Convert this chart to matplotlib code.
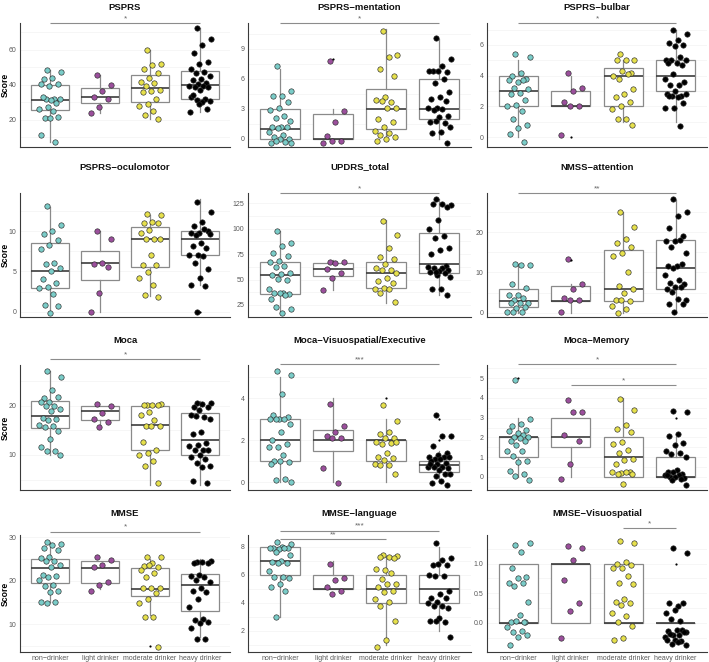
import matplotlib
matplotlib.use("Agg")
import matplotlib.pyplot as plt
import numpy as np

plt.rcParams['font.family'] = ['Liberation Sans', 'DejaVu Sans']

groups = ["non−drinker", "light drinker", "moderate drinker", "heavy drinker"]
group_colors = ["#7accc8", "#9b4f9c", "#e6e04c", "#000000"]

titles = ["PSPRS", "PSPRS−mentation", "PSPRS−bulbar",
          "PSPRS−oculomotor", "UPDRS_total", "NMSS−attention",
          "Moca", "Moca−Visuospatial/Executive", "Moca−Memory",
          "MMSE", "MMSE−language", "MMSE−Visuospatial"]

# ---------------- data (points per group, box stats lo,q1,med,q3,hi) ----------------
psprs_pts = [
    [48.6, 47.2, 44, 43, 40.6, 39.2, 40.6, 32, 32, 31.7, 31.5, 33.1, 29.7, 27.4, 26.1, 25, 21.1, 21.5, 20.7, 11, 7.2],
    [45.7, 40, 36.2, 33, 32, 27.2, 23.8],
    [60, 52, 51.4, 49.1, 46.6, 44, 41.5, 41, 39, 37.1, 36.6, 36, 32, 29.1, 27.6, 24.9, 22.9, 20.2],
    [72.3, 65.9, 62.9, 58.3, 52.9, 52, 49.1, 47.2, 46.8, 44.7, 43.2, 42.5, 41, 40.6, 39.2, 39.2, 38.5, 38.5,
     37.1, 33, 31.6, 31.2, 30.8, 30.3, 34, 26.3, 29.1, 24.4]]
psprs_box = [(7.2, 25.7, 31, 40, 48.6), (23.8, 29.5, 33, 38, 45.7), (20.2, 30, 38, 45.3, 60), (24.4, 31.6, 40, 47.8, 72.3)]
psprs_out = []
psprs_sig = [(1, 4, 75.2, "*")]

ment_pts = [
    [7.3, 4.8, 4.3, 4.3, 3.7, 3.1, 2.9, 2.3, 2.1, 1.8, 1.2, 1.2, 1.2, 1.1, 0.7, 0.4, 0.2, 0, 0, -0.4, -0.3, -0.2, -0.4],
    [7.8, 2.8, 1.7, 0.3, -0.2, -0.2, -0.4],
    [10.8, 8.4, 8.2, 7, 6.3, 4.2, 3.9, 3.7, 3.8, 3.1, 3.1, 2, 1.7, 1.2, 0.8, 0.6, 0.4, 0.2, 0, -0.2],
    [10.1, 8, 7.3, 6.8, 6.7, 6.8, 6.8, 6, 5.6, 4.7, 4.2, 4, 3.8, 3.1, 3.1, 3, 2.9, 2.3, 2.2, 1.7, 1.6, 1.8,
     1.2, 0.7, 0.6, -0.4]]
ment_box = [(0, 0, 1, 3, 7), (0, 0, 0, 2.5, 3), (0, 1, 3, 5, 11), (0, 2, 3, 6, 10)]
ment_out = [(2, 8)]
ment_sig = [(1, 4, 11.57, "*")]

bulb_pts = [
    [5.4, 5.2, 4.2, 4.0, 3.8, 3.6, 3.7, 3.7, 3.2, 3.1, 2.9, 2.8, 2.4, 2.1, 2.0, 1.7, 1.2, 0.8, 0.6, 0.2, -0.3],
    [4.2, 3.2, 3.0, 2.3, 2, 2, 0.15],
    [5.4, 5.0, 5.0, 5.0, 4.2, 4.3, 4.0, 4.1, 3.8, 3.1, 2.8, 2.6, 2.3, 2.0, 1.8, 1.2, 1.2, 0.8],
    [7, 6.7, 6.3, 6.1, 6.0, 5.9, 5.0, 5.2, 5.0, 5.0, 4.8, 4.8, 4.7, 4.1, 3.8, 3.4, 3.4, 3.6, 3.0, 2.8, 2.7,
     2.7, 2.8, 2.6, 2.7, 2.2, 1.9, 1.9, 0.7]]
bulb_box = [(0, 2, 3, 4, 5), (2, 2, 2, 3, 4), (1, 2, 4, 4.5, 5), (1, 3, 4, 5, 7)]
bulb_out = [(2, 0)]
bulb_sig = [(1, 4, 7.43, "*")]

ocul_pts = [
    [13.1, 10.8, 10, 9.6, 8.9, 8.3, 7.8, 6.1, 5.9, 5.4, 5.1, 4.1, 3.6, 3.1, 3.0, 2.2, 0.8, 0.7, -0.2],
    [10, 9.0, 6.1, 5.9, 5.6, 2.3, 0],
    [12.2, 12, 11.2, 11, 11, 10.2, 9.8, 9, 9, 9, 7.1, 5.8, 5.8, 4.9, 4.2, 3.3, 2.1, 1.8],
    [13.7, 12.4, 11.1, 10.7, 10, 9.8, 9.8, 10.3, 9.5, 9.7, 8.6, 8.2, 7.9, 7.1, 7.1, 6.9, 6.1, 5.3, 4.2,
     3.3, 3.2, -0.1]]
ocul_box = [(0, 3, 5, 8.5, 13), (0, 4, 6, 7.5, 10), (2, 5.5, 9, 10.5, 12), (3.3, 7, 9, 10, 14)]
ocul_out = [(4, 0)]
ocul_sig = []

updrs_pts = [
    [98, 86.3, 83, 76.5, 73.5, 68.6, 67.6, 63.4, 62, 56, 55, 54.5, 50, 51, 40.4, 37.1, 36.5, 35.8, 37, 30.6,
     34.8, 23.4, 20.7, 16.8],
    [67, 67.6, 66, 60, 56.1, 51.9, 39.8],
    [107.6, 93.9, 80.7, 72.5, 69.9, 65.3, 61, 59.4, 59.4, 56.1, 51.2, 48.9, 47, 41.4, 40.4, 40.7, 36.5, 28.3],
    [129.3, 123.4, 124, 124.3, 121.7, 108, 99.4, 92.9, 91.2, 80.7, 79.1, 75.2, 63.4, 54.5, 62.7, 61, 61,
     59.4, 58.4, 57.8, 56.8, 57.8, 52.2, 40.4, 40.4, 34.8]]
updrs_box = [(16.8, 36, 54, 67.6, 98), (39.8, 53.5, 60, 66.6, 69), (27.3, 41.4, 56, 67.6, 108), (35, 56.8, 65, 96, 129)]
updrs_out = []
updrs_sig = [(1, 4, 134.8, "*")]

nmss_pts = [
    [12.1, 11.8, 11.8, 7.1, 6.2, 4.4, 4.4, 3.7, 3.1, 2.5, 2.3, 2.3, 1.5, 1.1, 0.2, 0.2, 0.2],
    [13.3, 7.1, 6, 3.7, 3.1, 3.1, 0.2],
    [25, 21.3, 18.4, 17.2, 16.2, 14.9, 14.1, 10.2, 6.6, 5.8, 5, 3.1, 3, 3.1, 1.7, 0.9, -0.2],
    [28.1, 25, 24, 20.9, 19, 17.8, 17.8, 18, 16.2, 14.9, 11.6, 11.6, 12.2, 11.2, 9.3, 8.1, 7.3, 7.1, 6.4,
     6, 6.3, 5.2, 3.1, 3.3, 2.1, 2.1, 0.2]]
nmss_box = [(0, 1.5, 3, 6, 12), (0, 3, 3, 6.5, 7), (0, 3, 6, 15.5, 25), (0, 6, 11, 18, 28)]
nmss_out = [(2, 13)]
nmss_sig = [(1, 4, 29.6, "**")]

moca_pts = [
    [27, 25.9, 23.2, 21.5, 21.7, 20.8, 20.7, 19.9, 19.9, 19.3, 19, 17.6, 17.2, 17, 16.1, 15.9, 15.6, 14.9,
     13.2, 11.7, 10.9, 10.9, 10],
    [20.3, 19.9, 18.6, 17.3, 16.6, 15.7],
    [20.1, 20.3, 20.1, 20.1, 20.1, 18.8, 18.2, 17, 15.9, 15.9, 15.9, 12.6, 11.1, 10.5, 9.9, 8.8, 7.8, 4.3],
    [20.5, 20.5, 20.3, 19.8, 19.7, 19.1, 18.1, 17.8, 17.9, 17.3, 14.7, 14.3, 12.5, 12, 11.8, 11, 11, 11,
     10, 9.5, 9.1, 8.3, 7.8, 7.6, 4.7, 4.3]]
moca_box = [(10, 15.4, 18, 21, 27), (16, 17, 19, 20, 20), (4, 11, 16, 20, 20), (4, 10, 13, 18.5, 21)]
moca_out = []
moca_sig = [(1, 4, 29.5, "*")]

mvis_pts = [
    [5.3, 5.1, 4.2, 3.2, 3.1, 3.0, 3.0, 3.0, 3.0, 2.8, 2.4, 2.0, 1.8, 1.7, 1.7, 1.3, 1.0, 0.95, 1.0, 0.85,
     0.15, 0.1, 0.03],
    [3.75, 2.7, 2.4, 2.2, 2.1, 2.1, 0.7, -0.05],
    [3.7, 2.9, 2.4, 2.3, 2.1, 2.1, 1.9, 1.85, 1.8, 1.9, 1.4, 1.2, 1.15, 1.05, 0.87, 0.83, 0.83, 0.4],
    [3.2, 2.2, 2.2, 1.75, 1.4, 1.3, 1.2, 1.2, 1.1, 1.2, 1.1, 1.0, 0.9, 0.87, 0.75, 0.75, 0.75, 0.67, 0.6,
     0.87, 0.4, 0.3, 0.4, 0.06, -0.05, -0.13]]
mvis_box = [(0, 1, 2, 3, 5), (0, 1.5, 2, 2.5, 4), (0, 1, 2, 2, 3), (0, 0.5, 0.8, 1, 1.5)]
mvis_out = [(3, 4), (4, 3), (4, 2)]
mvis_sig = [(1, 4, 5.63, "***")]

mmem_pts = [
    [4.9, 2.95, 2.7, 2.6, 2.35, 2.2, 2.3, 2.1, 2.0, 2.0, 1.95, 1.8, 1.8, 1.6, 1.3, 1.3, 1.07, 0.8, 0.75,
     0.3, 0.14, 0.03, -0.13],
    [3.9, 3.3, 3.3, 2.1, 1.8, 0.65, -0.1],
    [3.95, 3.4, 2.65, 2.4, 2.25, 1.75, 1.65, 1.35, 1.2, 0.93, 0.88, 0.65, 0.25, 0.2, 0.25, 0.25, 0.17,
     0.14, -0.37],
    [3.35, 3.27, 2.15, 2.07, 1.7, 1.6, 1.3, 1.22, 1.14, 1.0, 0.37, 0.25, 0.17, 0.25, 0.12, 0.08, 0, -0.03,
     0, 0.08, -0.08, -0.17, -0.39]]
mmem_box = [(0, 1, 2, 2, 3), (0, 1.5, 2, 3, 3), (0, 0, 1, 2, 4), (0, 0, 0, 1, 2)]
mmem_out = [(1, 5), (4, 3)]
mmem_sig = [(1, 4, 5.71, "*"), (2, 4, 4.63, "*")]

mmse_pts = [
    [28.8, 28.4, 28.2, 27.4, 27, 25.5, 25.3, 24.5, 24.6, 23.6, 23.2, 21.3, 21.1, 20.9, 20.2, 18.9, 18.8,
     17.6, 17.3, 15, 15, 14.8],
    [25.5, 24.8, 23.6, 23.2, 19.8, 19, 17.6],
    [25.5, 25.4, 24.1, 23.4, 23.2, 23.6, 22.5, 21.7, 20.8, 18.4, 18.2, 18.2, 17.1, 15.9, 14.8, 11.7, 11.7, 4.7],
    [24.2, 24.5, 24.4, 24, 24.1, 21.3, 21.1, 20.9, 20.2, 19.6, 18.2, 17.6, 17.3, 15.9, 14, 11.3, 11, 10.6,
     10.2, 9.2, 6.7, 6.7]]
mmse_box = [(15, 19.5, 23, 25, 29), (18, 19.5, 23, 24.5, 24.5), (12, 16.5, 18, 23, 25), (7, 13, 19, 21.5, 25)]
mmse_out = [(3, 5)]
mmse_sig = [(1, 4, 31.3, "*")]

mlang_pts = [
    [8.35, 8.17, 7.95, 7.88, 7.88, 7.81, 7.88, 7.88, 7.64, 7.4, 6.98, 6.88, 6.86, 6.8, 6.26, 5.86, 5.81,
     5.74, 5.33, 5.1, 4.83, 3.0],
    [6.76, 5.74, 5.62, 5.14, 4.83, 4.6],
    [7.4, 7.33, 7.29, 7.24, 7.2, 6.33, 6.38, 6.1, 5.67, 5.33, 5.31, 5.1, 4.86, 4.74, 4.26, 4.07, 3.79,
     2.69, 1.33, 0.81],
    [8.24, 7.2, 7.05, 6.7, 6.7, 6.76, 6, 5.9, 5.88, 4.83, 4.6, 4.3, 4.36, 4.07, 3.95, 3.76, 3.79, 3.6,
     2.93, 2.71, 2.64, 2.69, 1.57]]
mlang_box = [(3, 6, 7, 8, 8), (5, 5, 5, 6, 7), (1, 4, 5, 6, 7.3), (2, 4, 5, 6, 8)]
mlang_out = []
mlang_sig = [(1, 4, 9.14, "***"), (1, 3, 8.52, "**")]

mvsp_pts = [
    [1.32, 1.34, 1.2, 0.92, 0.78, 0.76, 0.68, 0.67, 0.62, 0.35, 0.13, 0.02, 0.02, 0.03, -0.07, -0.13,
     -0.15, -0.21, -0.24, -0.37, 0.02],
    [1.29, 1.26, 1.06, 0.73, 0.33, 0.2, -0.25],
    [1.38, 1.35, 1.03, 0.99, 0.97, 0.93, 0.92, 0.79, 0.67, 0.65, 0.41, 0.35, 0.34, 0.3, 0.17, 0.12, 0.02,
     -0.05, -0.25, -0.29],
    [1.26, 1.17, 0.28, 0.34, 0.34, 0.22, 0.17, 0.03, 0.07, -0.15, -0.12, -0.14, -0.12, -0.2, -0.24, -0.2,
     -0.18, -0.15, -0.28, -0.28, -0.31, -0.35, -0.38, -0.32]]
mvsp_box = [(0, 0, 0, 1, 1), (0, 0, 1, 1, 1), (0, 0, 0, 1, 1), (0, 0, 0, 0, 0)]
mvsp_out = [(4, 1)]
mvsp_sig = [(3, 4, 1.59, "*")]

ylims = [(4.4, 75.2), (-0.83, 11.57), (-0.65, 7.43),
         (-0.66, 14.76), (13.2, 135.0), (-1.07, 29.7),
         (2.9, 28.25), (-0.37, 5.59), (-0.66, 5.66),
         (3.6, 30.5), (0.48, 8.83), (-0.49, 1.48)]
yticks = [[20, 40, 60], [0, 3, 6, 9], [0, 2, 4, 6],
          [0, 5, 10], [25, 50, 75, 100, 125], [0, 10, 20],
          [10, 20], [0, 2, 4], [0, 1, 2, 3, 4, 5],
          [10, 20, 30], [2, 4, 6, 8], [0.0, 0.5, 1.0]]
ytick_labels = [None] * 11 + [["0.0", "0.5", "1.0"]]

panels = [
    (psprs_pts, psprs_box, psprs_out, psprs_sig),
    (ment_pts, ment_box, ment_out, ment_sig),
    (bulb_pts, bulb_box, bulb_out, bulb_sig),
    (ocul_pts, ocul_box, ocul_out, ocul_sig),
    (updrs_pts, updrs_box, updrs_out, updrs_sig),
    (nmss_pts, nmss_box, nmss_out, nmss_sig),
    (moca_pts, moca_box, moca_out, moca_sig),
    (mvis_pts, mvis_box, mvis_out, mvis_sig),
    (mmem_pts, mmem_box, mmem_out, mmem_sig),
    (mmse_pts, mmse_box, mmse_out, mmse_sig),
    (mlang_pts, mlang_box, mlang_out, mlang_sig),
    (mvsp_pts, mvsp_box, mvsp_out, mvsp_sig),
]

# ---------------- layout ----------------
W, H = 709, 662
fig = plt.figure(figsize=(W / 100, H / 100), dpi=100)
fig.patch.set_facecolor("white")

cols = [(20, 230), (248, 471), (487, 707)]
rows = [(23, 147), (193, 317), (365, 490), (535, 652)]
title_y = [7, 167, 340, 514]

BOXC = "#8a8a8a"
MEDC = "#3c3c3c"
SPINEC = "#3a3a3a"
TICKC = "#5a5a5a"


def jitter(n, width=0.22):
    return np.array([((i * 0.6180339887 + 0.37) % 1.0) * 2 - 1 for i in range(n)]) * width


for k, (pts, box, outl, sig) in enumerate(panels):
    r, c = divmod(k, 3)
    l, rr = cols[c]
    t, b = rows[r]
    ax = fig.add_axes([l / W, 1 - b / H, (rr - l) / W, (b - t) / H])
    ax.set_facecolor("white")

    ax.set_xlim(0.4, 4.6)
    ax.set_ylim(*ylims[k])

    # faint grid
    yt = yticks[k]
    step = (yt[1] - yt[0]) / 2.0
    lo, hi = ylims[k]
    gl = np.arange(yt[0] - 10 * step, hi + step, step)
    for gv in gl:
        if lo < gv < hi:
            ax.axhline(gv, color="#f3f3f3", lw=0.5, zorder=0)

    stats = [dict(whislo=bx[0], q1=bx[1], med=bx[2], q3=bx[3], whishi=bx[4], fliers=[]) for bx in box]
    ax.bxp(stats, positions=[1, 2, 3, 4], widths=0.75, showcaps=False, showfliers=False,
           patch_artist=True,
           boxprops=dict(facecolor="white", edgecolor=BOXC, linewidth=0.9),
           whiskerprops=dict(color=BOXC, linewidth=0.9),
           medianprops=dict(color=MEDC, linewidth=1.2, solid_capstyle="butt"),
           zorder=2)

    for g, vals in enumerate(pts):
        vals = np.asarray(vals, dtype=float)
        xs = g + 1 + jitter(len(vals))
        ax.scatter(xs, vals, s=15, c=group_colors[g], edgecolors="#2a2a2a",
                   linewidths=0.45, zorder=3)

    for g, v in outl:
        ax.scatter([g], [v], s=2.5, c="black", zorder=4, linewidths=0)

    for g1, g2, yv, lab in sig:
        ax.plot([g1, g2], [yv, yv], color="#8c8c8c", lw=0.8, clip_on=False, zorder=5,
                solid_capstyle="butt")
        ax.annotate(lab, xy=((g1 + g2) / 2, yv), xytext=(0, 0.6), textcoords="offset points",
                    ha="center", va="bottom", fontsize=6, color="#666666", annotation_clip=False)

    for s in ["top", "right"]:
        ax.spines[s].set_visible(False)
    for s in ["left", "bottom"]:
        ax.spines[s].set_color(SPINEC)
        ax.spines[s].set_linewidth(0.8)

    ax.set_yticks(yt)
    if ytick_labels[k] is not None:
        ax.set_yticklabels(ytick_labels[k])
    ax.tick_params(axis="y", length=0, pad=2.5, labelsize=5, labelcolor=TICKC)
    ax.set_xticks([1, 2, 3, 4])
    if r == 3:
        ax.set_xticklabels(groups)
        ax.tick_params(axis="x", length=0, pad=2, labelsize=5, labelcolor=TICKC)
    else:
        ax.set_xticklabels([])
        ax.tick_params(axis="x", length=0)

    if c == 0:
        ax.set_ylabel("Score", fontsize=6.2, fontweight="bold")
        ax.yaxis.set_label_coords((9.8 - l) / (rr - l), 0.5)

    fig.text(((l + rr) / 2) / W, 1 - title_y[r] / H, titles[k], ha="center", va="center",
             fontsize=6.8, fontweight="bold", color="#111111")

fig.savefig("out.png", dpi=100, facecolor="white")
